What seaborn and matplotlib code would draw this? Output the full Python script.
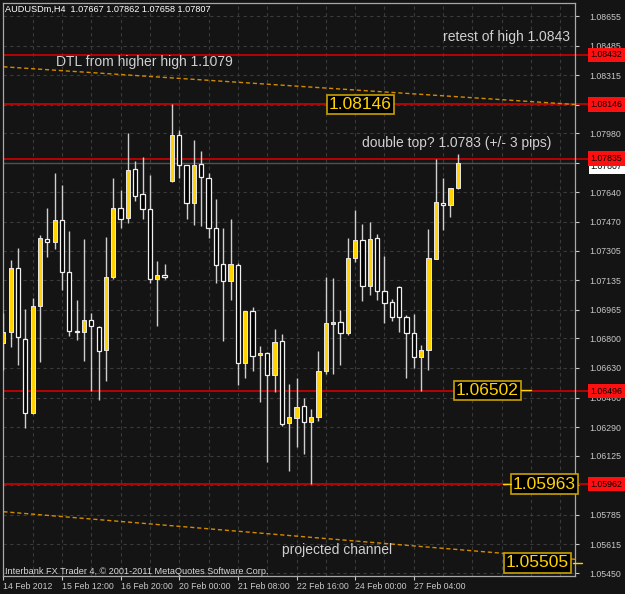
import numpy as np
import pandas as pd
import matplotlib
matplotlib.use('Agg')
import matplotlib.pyplot as plt
import seaborn as sns


# Data (AUDUSDm H4 candles)

opens = [1.06772, 1.06838, 1.07203, 1.06795, 1.06369, 1.06986, 1.07372, 1.07356, 1.07481, 1.07180,
         1.06844, 1.06835, 1.06906, 1.06864, 1.06733, 1.07155, 1.07549, 1.07491, 1.07773, 1.07629,
         1.07544, 1.07140, 1.07165, 1.07706, 1.07970, 1.07796, 1.07577, 1.07802, 1.07725, 1.07433,
         1.07226, 1.07132, 1.07222, 1.06657, 1.06959, 1.06704, 1.06714, 1.06589, 1.06787, 1.06311,
         1.06344, 1.06413, 1.06317, 1.06346, 1.06612, 1.06884, 1.06893, 1.06833, 1.07261, 1.07366,
         1.07101, 1.07376, 1.07073, 1.07008, 1.07094, 1.06925, 1.06829, 1.06691, 1.06733, 1.07255,
         1.07577, 1.07567, 1.07667]
highs = [1.06944, 1.07251, 1.07318, 1.06967, 1.07031, 1.07395, 1.07549, 1.07750, 1.07683, 1.07420,
         1.07021, 1.07372, 1.06944, 1.06871, 1.07382, 1.07725, 1.07654, 1.07984, 1.07821, 1.07842,
         1.07740, 1.07245, 1.07230, 1.08146, 1.07999, 1.07796, 1.07942, 1.07878, 1.07750, 1.07600,
         1.07433, 1.07487, 1.07235, 1.06959, 1.06982, 1.06756, 1.06723, 1.06852, 1.06825, 1.06538,
         1.06570, 1.06455, 1.06394, 1.06727, 1.07151, 1.07149, 1.06963, 1.07376, 1.07539, 1.07456,
         1.07471, 1.07399, 1.07274, 1.07027, 1.07101, 1.06935, 1.06940, 1.06762, 1.07429, 1.07835,
         1.07725, 1.07667, 1.07862]
lows = [1.06618, 1.06752, 1.06647, 1.06283, 1.06365, 1.06666, 1.07270, 1.07314, 1.07078, 1.06815,
        1.06791, 1.06672, 1.06497, 1.06445, 1.06556, 1.07140, 1.07437, 1.07462, 1.07592, 1.07487,
        1.07120, 1.06873, 1.07142, 1.07702, 1.07721, 1.07487, 1.07452, 1.07447, 1.07379, 1.07120,
        1.06785, 1.07021, 1.06532, 1.06574, 1.06614, 1.06432, 1.06090, 1.06490, 1.06298, 1.06037,
        1.06177, 1.06135, 1.05962, 1.06326, 1.06595, 1.06595, 1.06647, 1.06819, 1.07241, 1.07017,
        1.07050, 1.07021, 1.06887, 1.06900, 1.06838, 1.06570, 1.06628, 1.06496, 1.06618, 1.07255,
        1.07424, 1.07497, 1.07658]
closes = [1.06838, 1.07203, 1.06806, 1.06369, 1.06986, 1.07376, 1.07353, 1.07481, 1.07180, 1.06844,
          1.06838, 1.06906, 1.06871, 1.06727, 1.07155, 1.07549, 1.07487, 1.07769, 1.07621, 1.07544,
          1.07140, 1.07165, 1.07153, 1.07970, 1.07796, 1.07577, 1.07796, 1.07727, 1.07433, 1.07222,
          1.07132, 1.07226, 1.06657, 1.06959, 1.06700, 1.06714, 1.06589, 1.06781, 1.06307, 1.06349,
          1.06407, 1.06317, 1.06349, 1.06612, 1.06887, 1.06893, 1.06833, 1.07261, 1.07366, 1.07101,
          1.07370, 1.07073, 1.07002, 1.06925, 1.06925, 1.06829, 1.06691, 1.06733, 1.07261, 1.07583,
          1.07567, 1.07667, 1.07807]

# horizontal levels (red lines) and bid line
levels = [1.08432, 1.08146, 1.07835, 1.06496, 1.05962]
bid = 1.07807

# channel trend lines (bar index, price)
upper_x = [0, 78]
upper_y = [1.08363, 1.08146]
lower_x = [0, 78]
lower_y = [1.05803, 1.05529]

# price axis ticks (labels hidden behind the level boxes are left blank)
y_ticks = [1.08655, 1.08485, 1.08315, 1.08145, 1.07980, 1.07810, 1.07640, 1.07470, 1.07305, 1.07135,
           1.06965, 1.06800, 1.06630, 1.06460, 1.06290, 1.06125, 1.05955, 1.05785, 1.05615, 1.05450]
hidden_ticks = [1.08145, 1.07810, 1.05955]

# time axis labels (every 8 bars)
x_tick_pos = [0, 8, 16, 24, 32, 40, 48, 56]
x_tick_labels = ['14 Feb 2012', '15 Feb 12:00', '16 Feb 20:00', '20 Feb 00:00',
                 '21 Feb 08:00', '22 Feb 16:00', '24 Feb 00:00', '27 Feb 04:00']

df = pd.DataFrame({'open': opens, 'high': highs, 'low': lows, 'close': closes})
df['bar'] = np.arange(len(df))
df['bull'] = df['close'] > df['open']


# Style

bg = '#141414'
sns.set_theme(style='dark', rc={
    'axes.facecolor': bg,
    'figure.facecolor': bg,
    'axes.edgecolor': '#b0b0b0',
    'text.color': '#d8d8d8',
    'xtick.color': '#c8c8c8',
    'ytick.color': '#c8c8c8',
})
plt.rcParams['font.family'] = ['Liberation Sans', 'DejaVu Sans']

fig = plt.figure(figsize=(6.25, 5.94), dpi=100)
ax = fig.add_axes([3 / 625, 18 / 594, 572 / 625, 573 / 594])
ax.set_xlim(-0.05, 78.0)
ax.set_ylim(1.05433, 1.08730)

# grid
for xg in range(4, 78, 4):
    ax.axvline(xg, color='#3a3a3a', lw=0.8, ls=(0, (3, 3)), zorder=0)
for yg in y_ticks:
    ax.axhline(yg, color='#3a3a3a', lw=0.8, ls=(0, (3, 3)), zorder=0)


# Candles

ax.vlines(df['bar'], df['low'], df['high'], color='#cfcfcf', lw=1, zorder=3)
body_h = (df['close'] - df['open']).abs().clip(lower=0.00002)
body_b = df[['open', 'close']].min(axis=1)
up = df[df['bull']]
dn = df[~df['bull']]
ax.bar(up['bar'], body_h[up.index], bottom=body_b[up.index], width=0.58,
       color='#ffd200', edgecolor='#e8e8e8', lw=0.7, zorder=4)
ax.bar(dn['bar'], body_h[dn.index], bottom=body_b[dn.index], width=0.58,
       color='black', edgecolor='#f0f0f0', lw=0.9, zorder=4)


# Levels and channel

trans = ax.get_yaxis_transform()
for lv in levels:
    ax.axhline(lv, color='#e00000', lw=1.1, zorder=2)
    ax.plot([1.0, 1.03], [lv, lv], transform=trans, color='#e00000', lw=1.1, clip_on=False)
ax.axhline(bid, color='#505050', lw=1, zorder=2)

sns.lineplot(x=upper_x, y=upper_y, ax=ax, color='#d48a00', lw=1, linestyle=(0, (3, 2)), zorder=2)
sns.lineplot(x=lower_x, y=lower_y, ax=ax, color='#d48a00', lw=1, linestyle=(0, (3, 2)), zorder=2)


# Axes

ax.yaxis.tick_right()
ax.set_yticks(y_ticks)
ax.set_yticklabels(['' if v in hidden_ticks else f'{v:.5f}' for v in y_ticks], fontsize=6.3)
ax.tick_params(axis='y', length=3, width=0.8, pad=7.5, right=True)
ax.set_xticks(x_tick_pos)
ax.set_xticklabels(x_tick_labels, fontsize=6.3, ha='left')
ax.tick_params(axis='x', length=3, width=0.8, pad=1.5, bottom=True)
for s in ax.spines.values():
    s.set_color('#a8a8a8')
    s.set_linewidth(0.9)

# right axis price boxes
ax.text(1.0275, bid - 0.0002, f'{bid:.5f}', transform=trans, fontsize=6.3, color='black',
        ha='left', va='center', zorder=9, clip_on=False,
        bbox=dict(facecolor='white', edgecolor='none', boxstyle='square,pad=0.25'))
for lv in levels:
    ax.text(1.0275, lv, f'{lv:.5f}', transform=trans, fontsize=6.3, color='black',
            ha='left', va='center', zorder=10, clip_on=False,
            bbox=dict(facecolor='#ff1010', edgecolor='none', boxstyle='square,pad=0.3'))


# Annotations

note = dict(fontsize=10, color='#d0d0d0', va='center', ha='left')
ax.text(7.2, 1.08390, 'DTL from higher high 1.1079', **note)
ax.text(60.0, 1.08534, 'retest of high 1.0843', **note)
ax.text(48.9, 1.07924, 'double top? 1.0783 (+/- 3 pips)', **note)
ax.text(38.0, 1.05582, 'projected channel', **note)

box = dict(facecolor='black', edgecolor='#c8a000', lw=1.2, boxstyle='square,pad=0.12')
lab = dict(fontsize=12.5, color='#ffd200', ha='center', va='center', zorder=11)
ax.text(48.7, 1.08146, '1.08146', bbox=box, **lab)
ax.text(66.0, 1.06502, '1.06502', bbox=box, **lab)
ax.text(73.8, 1.05962, '1.05963', bbox=box, **lab)
ax.text(72.9, 1.05508, '1.05505', bbox=box, **lab)
ax.plot([70.6, 72.0], [1.06502, 1.06502], color='#ffd200', lw=1, zorder=11)
ax.plot([68.2, 69.3], [1.05962, 1.05962], color='#ffd200', lw=1, zorder=11)
ax.plot([77.7, 78.9], [1.05508, 1.05508], color='#ffd200', lw=1, zorder=11, clip_on=False)

ax.text(0.004, 0.9895, 'AUDUSDm,H4  1.07667 1.07862 1.07658 1.07807', transform=ax.transAxes,
        fontsize=6.6, color='white', ha='left', va='center')
ax.text(0.004, 0.0087, 'Interbank FX Trader 4, \u00a9 2001-2011 MetaQuotes Software Corp.',
        transform=ax.transAxes, fontsize=6.6, color='#d8d8d8', ha='left', va='center')

ax.set_xlabel('')
ax.set_ylabel('')

fig.savefig('out.png', dpi=100, facecolor=fig.get_facecolor())
